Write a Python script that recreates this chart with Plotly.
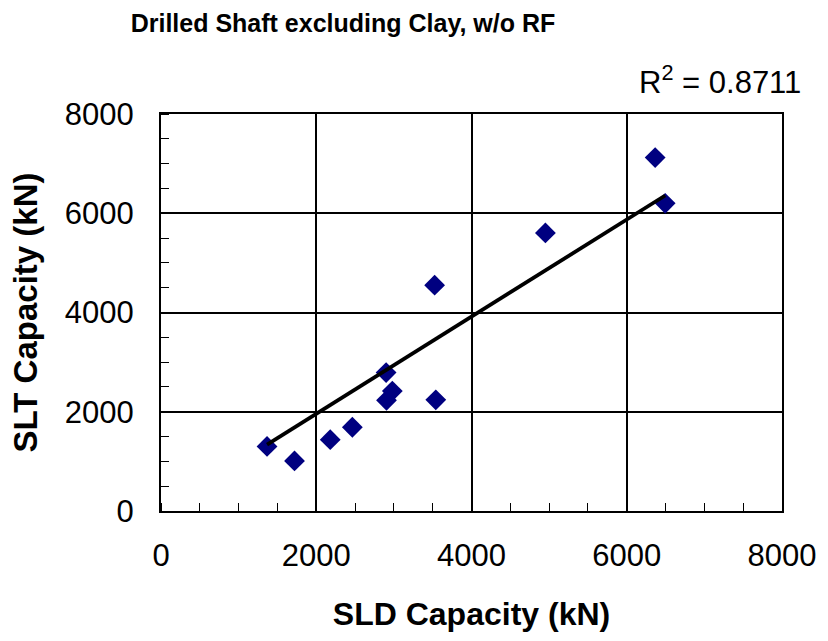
import numpy as np
import plotly.graph_objects as go

# SLD (predicted) vs SLT (measured) capacities, kN
sld_capacity = [1366, 1720, 2180, 2465, 2900, 2980, 2905, 3540, 3525, 4952, 6366, 6495]
slt_capacity = [1302, 1010, 1438, 1688, 2790, 2417, 2230, 2240, 4550, 5604, 7121, 6201]
r_squared_label = "R<sup>2</sup> = 0.8711"

x_ticks = [0, 2000, 4000, 6000, 8000]
y_ticks = [0, 2000, 4000, 6000, 8000]

# Linear trendline forced through the origin (least squares)
xs = np.array(sld_capacity, dtype=float)
ys = np.array(slt_capacity, dtype=float)
slope = float((xs * ys).sum() / (xs * xs).sum())
trend_x = [xs.min(), xs.max()]
trend_y = [slope * v for v in trend_x]

sans = "Liberation Sans, Arial, sans-serif"

fig = go.Figure()
fig.add_trace(go.Scatter(
    x=sld_capacity, y=slt_capacity, mode="markers",
    marker=dict(symbol="diamond", size=16, color="#000080", line=dict(width=0)),
    showlegend=False,
))
fig.add_trace(go.Scatter(
    x=trend_x, y=trend_y, mode="lines",
    line=dict(color="black", width=3.8),
    showlegend=False,
))

axis_common = dict(
    range=[0, 8000], tickvals=x_ticks, ticks="", showgrid=True,
    gridcolor="black", gridwidth=1.5, showline=True, linecolor="black",
    linewidth=2, mirror=True, zeroline=False,
    tickfont=dict(family=sans, size=31, color="black"),
    minor=dict(dtick=500, ticks="inside", ticklen=8, tickcolor="black",
               tickwidth=1.2, showgrid=False),
)

fig.update_layout(
    width=828, height=641,
    margin=dict(l=161, r=40, t=114, b=130),
    paper_bgcolor="white", plot_bgcolor="white",
    title=dict(
        text="<b>Drilled Shaft excluding Clay, w/o RF</b>",
        font=dict(family=sans, size=25, color="black"),
        x=343 / 828, xanchor="center", xref="container",
        y=1 - 23 / 641, yanchor="middle", yref="container",
    ),
    xaxis=dict(axis_common, ticklabelstandoff=16,
               title=dict(text="<b>SLD Capacity (kN)</b>", standoff=30,
                          font=dict(family=sans, size=32, color="black"))),
    yaxis=dict(axis_common, tickvals=y_ticks, ticklabelstandoff=19,
               title=dict(text="<b>SLT Capacity (kN)</b>", standoff=17,
                          font=dict(family=sans, size=33, color="black"))),
    annotations=[dict(
        text=r_squared_label, xref="paper", yref="paper",
        x=(809 - 161) / 627, y=(511 - 80) / 397, xanchor="right", yanchor="middle",
        showarrow=False, font=dict(family=sans, size=31, color="black"),
    )],
)

fig.write_html("out.html")
